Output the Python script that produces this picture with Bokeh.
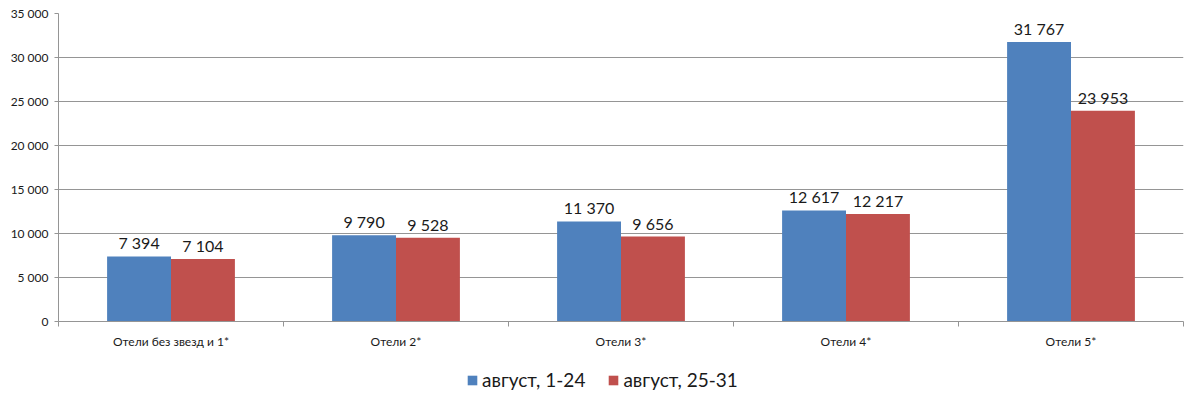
import numpy as np
from bokeh.plotting import figure
from bokeh.layouts import column
from bokeh.models import ColumnDataSource, FixedTicker, Legend, LegendItem, Range1d
from bokeh.transform import dodge
from bokeh.core.properties import value
from bokeh.embed import file_html
from bokeh.resources import INLINE

categories = ["Отели без звезд и 1*", "Отели 2*", "Отели 3*", "Отели 4*", "Отели 5*"]
series_names = ["август, 1-24", "август, 25-31"]
aug_1_24 = [7394, 9790, 11370, 12617, 31767]
aug_25_31 = [7104, 9528, 9656, 12217, 23953]
y_ticks = [0, 5000, 10000, 15000, 20000, 25000, 30000, 35000]

FONT = "Lato"
BLUE = "#4F81BD"
RED = "#C0504D"
GRID = "#959595"
TXT = "#1a1a1a"


def fmt(v):
    return f"{v:,}".replace(",", " ")


n = len(categories)
centers = [i + 0.5 for i in range(n)]
source = ColumnDataSource(dict(
    x=centers,
    a=aug_1_24,
    b=aug_25_31,
    a_lbl=[fmt(v) for v in aug_1_24],
    b_lbl=[fmt(v) for v in aug_25_31],
))

p = figure(frame_width=1125, frame_height=308, output_backend="svg", toolbar_location=None,
           x_range=Range1d(0, n), y_range=Range1d(0, 35000),
           min_border_left=58, min_border_right=17, min_border_top=13, min_border_bottom=29)
p.outline_line_color = None
p.background_fill_color = "white"
p.border_fill_color = "white"

bw = 0.284
r1 = p.vbar(x=dodge("x", -bw / 2), top="a", width=bw, source=source,
            fill_color=BLUE, line_color=None)
r2 = p.vbar(x=dodge("x", bw / 2), top="b", width=bw, source=source,
            fill_color=RED, line_color=None)

for col, off in (("a", -bw / 2), ("b", bw / 2)):
    p.text(x=dodge("x", off), y=col, text=col + "_lbl", source=source,
           text_align="center", text_baseline="bottom", y_offset=-4,
           text_font=value(FONT), text_font_size="16px", text_color=TXT)

# y axis
p.yaxis.ticker = FixedTicker(ticks=y_ticks)
p.yaxis.major_label_overrides = {t: fmt(t) for t in y_ticks}
p.yaxis.major_label_text_font = FONT
p.yaxis.major_label_text_font_size = "12px"
p.yaxis.major_label_text_color = TXT
p.yaxis.axis_line_color = GRID
p.yaxis.major_tick_line_color = GRID
p.yaxis.major_tick_out = 4
p.yaxis.major_tick_in = 0
p.yaxis.minor_tick_line_color = None
p.yaxis.major_label_standoff = 6

# x axis
p.xaxis.ticker = FixedTicker(ticks=centers, minor_ticks=list(range(n + 1)))
p.xaxis.major_label_overrides = {c: lab for c, lab in zip(centers, categories)}
p.xaxis.major_label_text_font = FONT
p.xaxis.major_label_text_font_size = "12px"
p.xaxis.major_label_text_color = TXT
p.xaxis.axis_line_color = GRID
p.xaxis.major_tick_line_color = None
p.xaxis.major_tick_out = 0
p.xaxis.major_tick_in = 0
p.xaxis.minor_tick_line_color = GRID
p.xaxis.minor_tick_out = 5
p.xaxis.minor_tick_in = 0
p.xaxis.major_label_standoff = 7

p.xgrid.grid_line_color = None
p.ygrid.grid_line_color = GRID
p.ygrid.ticker = FixedTicker(ticks=y_ticks)

# legend strip below the chart (zero-height key bars carry the series colours)
lg = figure(width=1200, height=56, output_backend="svg", toolbar_location=None,
            x_range=Range1d(0, 1), y_range=Range1d(0, 1),
            x_axis_type=None, y_axis_type=None,
            min_border_left=0, min_border_right=0, min_border_top=0, min_border_bottom=0)
lg.outline_line_color = None
lg.xgrid.grid_line_color = None
lg.ygrid.grid_line_color = None
key_src = ColumnDataSource(dict(x=[0.5], top=[0], bottom=[0]))
k1 = lg.vbar(x="x", top="top", bottom="bottom", width=0.01, source=key_src,
             fill_color=BLUE, line_color=None)
k2 = lg.vbar(x="x", top="top", bottom="bottom", width=0.01, source=key_src,
             fill_color=RED, line_color=None)

legend = Legend(items=[LegendItem(label=series_names[0], renderers=[k1]),
                       LegendItem(label=series_names[1], renderers=[k2])],
                orientation="horizontal", location=(408, 16),
                label_text_font=FONT, label_text_font_size="19px",
                label_text_color=TXT,
                glyph_width=12, glyph_height=12, label_standoff=4, spacing=22,
                padding=0, margin=0, border_line_color=None,
                background_fill_alpha=0)
lg.add_layout(legend, "center")

layout = column(p, lg, spacing=0)
open("out.html", "w").write(file_html(layout, INLINE))
